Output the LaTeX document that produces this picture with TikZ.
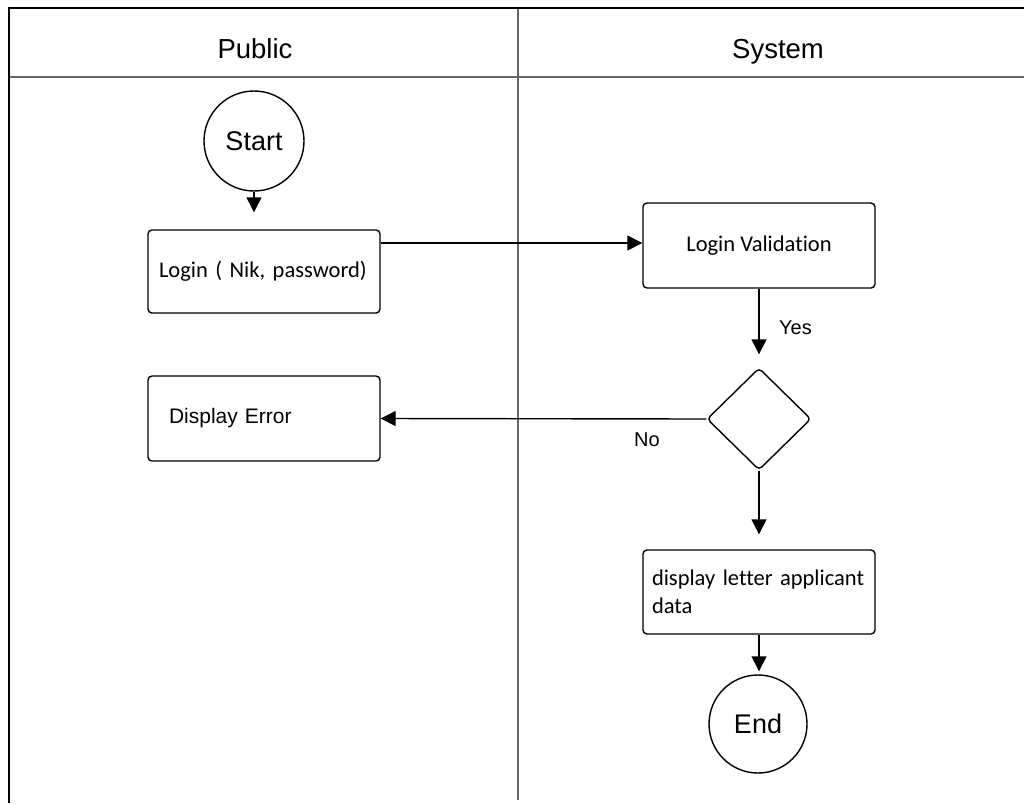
\documentclass[tikz,border=0pt]{standalone}
\usepackage{fontspec}
\setmainfont{Liberation Sans}
\newfontfamily\calibri[Ligatures=NoCommon]{Carlito}
\usetikzlibrary{shapes.geometric,arrows.meta,calc}

\tikzset{
  lane/.style={line width=1.5pt, draw=black},
  lanegray/.style={line width=2pt, draw=black!60},
  lanehead/.style={font=\fontsize{27.5}{30}\selectfont, anchor=base, inner sep=0pt},
  procbox/.style={draw=black, line width=1.4pt, rounded corners=4pt, fill=white,
    minimum height=84pt, inner ysep=0pt},
  terminal/.style={draw=black, line width=1.4pt, circle, inner sep=0pt,
    font=\fontsize{27}{30}\selectfont},
  decision/.style={draw=black, line width=1.4pt, diamond, rounded corners=4pt,
    minimum width=104pt, minimum height=102pt, inner sep=0pt},
  flow/.style={line width=1.4pt, -{Triangle[length=15pt,width=15pt]}},
  lbl/.style={font=\fontsize{20}{24}\selectfont, inner sep=0pt},
  boxtext/.style={font=\calibri\fontsize{22.5}{28}\selectfont},
}

\begin{document}
\begin{tikzpicture}[x=1pt, y=-1pt]
  \useasboundingbox (0,0) rectangle (1024,803);

  % swimlane frame
  \coordinate (tl) at (9,8);
  \coordinate (tr) at (1024,8);
  \coordinate (bl) at (9,803);
  \coordinate (hl) at (9,77);
  \coordinate (hr) at (1024,77);
  \coordinate (mt) at (518,8);
  \coordinate (mb) at (518,800);
  \draw[lanegray] (hl) -- (hr);
  \draw[lanegray] (mt) -- (mb);
  \draw[lane] (tr) -- (tl) -- (bl);

  % lane headers
  \node[lanehead] (public) at (255,58) {Public};
  \node[lanehead] (system) at (778,58) {System};

  % nodes
  \node[terminal, minimum size=100pt] (start) at (254,141) {Start};
  \node[procbox, boxtext, minimum height=83pt, text width=210pt, inner xsep=11pt, align=left]
    (login) at (264,271.5) {Login ( Nik, password)};
  \node[procbox, boxtext, minimum width=232pt, minimum height=85pt, align=center]
    (valid) at (759,245.5) {Login Validation};
  \node[decision] (dec) at (759,419) {};
  \node[procbox, font=\fontsize{21}{24}\selectfont, minimum height=85pt, text width=190pt,
    inner xsep=21pt, align=left] (err) at (264,418.5) {Display Error};
  \node[procbox, boxtext, minimum height=84pt, text width=214pt, inner xsep=9pt, align=left]
    (letter) at (759,592) {display letter applicant\\data};
  \node[terminal, minimum size=98pt] (end) at (758,724) {End};

  % connectors
  \draw[flow, shorten >=17pt] (start.south) -- (start.south |- login.north);
  \coordinate (vin) at ([yshift=2.5pt]valid.west);
  \draw[flow] (login.east |- vin) -- (vin);
  \draw[flow, shorten >=13pt] (valid.south) -- (dec.north);
  \draw[flow] (dec.west) -- (err.east);
  \draw[flow, shorten >=15pt] (dec.south) -- (letter.north);
  \draw[flow, shorten >=3pt] (letter.south) -- (letter.south |- end.north);

  % branch labels
  \node[lbl, anchor=west] (yes) at (779,328) {Yes};
  \node[lbl] (no) at (647,440) {No};
\end{tikzpicture}
\end{document}
